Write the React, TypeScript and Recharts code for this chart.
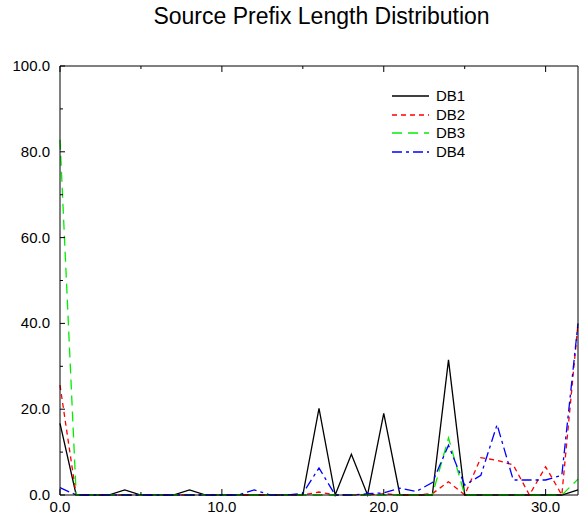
import React from "react";
import { LineChart, Line, XAxis, YAxis, Legend } from "recharts";

const prefixLengths = [
  0, 1, 2, 3, 4, 5, 6, 7, 8, 9, 10, 11, 12, 13, 14, 15, 16, 17, 18, 19, 20,
  21, 22, 23, 24, 25, 26, 27, 28, 29, 30, 31, 32,
];

const db1 = [
  16.7, 0, 0, 0, 1.2, 0, 0, 0, 1.2, 0, 0, 0, 0, 0, 0, 0, 20.2, 0, 9.5, 0, 19,
  0, 0, 0, 31.5, 0, 0, 0, 0, 0, 0, 0, 1.2,
];
const db2 = [
  25.6, 0, 0, 0, 0, 0, 0, 0, 0, 0, 0, 0, 0, 0, 0, 0, 0.7, 0, 0, 0, 0.3, 0, 0,
  0.3, 3.1, 0, 8.7, 8.1, 7, 0, 6.6, 0, 40,
];
const db3 = [
  82.8, 0, 0, 0, 0, 0, 0, 0, 0, 0, 0, 0, 0, 0, 0, 0, 0, 0, 0, 0, 0, 0, 0, 0,
  13.3, 0, 0, 0, 0, 0, 0, 0, 3.7,
];
const db4 = [
  1.7, 0, 0, 0, 0, 0, 0, 0, 0, 0, 0, 0, 1.2, 0, 0, 0.4, 6.3, 0, 0, 0.3, 0.5,
  1.6, 0.8, 2.9, 11.6, 2.3, 4.6, 16.4, 3.5, 3.5, 3.5, 4.6, 40,
];

const xTicks = [0, 5, 10, 15, 20, 25, 30];
const yTicks = [0, 10, 20, 30, 40, 50, 60, 70, 80, 90, 100];

const series = [
  { key: "DB1", color: "#000000", dash: undefined },
  { key: "DB2", color: "#ff0000", dash: "5 4" },
  { key: "DB3", color: "#00ee00", dash: "10 6" },
  { key: "DB4", color: "#0000ff", dash: "10 4 3 4" },
];

const data = prefixLengths.map((x, i) => ({
  x,
  DB1: db1[i],
  DB2: db2[i],
  DB3: db3[i],
  DB4: db4[i],
}));

const FONT = "Liberation Sans, Arial, Helvetica, sans-serif";

// ticks point into the plot, labels only on the major ones
function BottomTick(props: any) {
  const { x, y, payload } = props;
  const major = payload.value % 10 === 0;
  return (
    <g>
      <line x1={x} x2={x} y1={y} y2={y - (major ? 6 : 3)} stroke="#000" />
      {major && (
        <text x={x} y={y + 17} textAnchor="middle" fontSize={15} fontFamily={FONT} fill="#000">
          {payload.value.toFixed(1)}
        </text>
      )}
    </g>
  );
}

function TopTick(props: any) {
  const { x, y, payload } = props;
  const major = payload.value % 10 === 0;
  return <line x1={x} x2={x} y1={y} y2={y + (major ? 6 : 3)} stroke="#000" />;
}

function LeftTick(props: any) {
  const { x, y, payload } = props;
  const major = payload.value % 20 === 0;
  return (
    <g>
      <line x1={x} x2={x + (major ? 5 : 3)} y1={y} y2={y} stroke="#000" />
      {major && (
        <text x={x - 10} y={y + 5} textAnchor="end" fontSize={15} fontFamily={FONT} fill="#000">
          {payload.value.toFixed(1)}
        </text>
      )}
    </g>
  );
}

function RightTick(props: any) {
  const { x, y, payload } = props;
  const major = payload.value % 20 === 0;
  return <line x1={x} x2={x - (major ? 5 : 3)} y1={y} y2={y} stroke="#000" />;
}

function LegendBox() {
  return (
    <div style={{ fontFamily: FONT, fontSize: 15, color: "#000" }}>
      {series.map((s) => (
        <div key={s.key} style={{ display: "flex", alignItems: "center", height: 18.5 }}>
          <svg width={40} height={6}>
            <line x1={2} x2={39} y1={3} y2={3} stroke={s.color} strokeWidth={1.3} strokeDasharray={s.dash} />
          </svg>
          <span style={{ marginLeft: 6, lineHeight: "18px" }}>{s.key}</span>
        </div>
      ))}
    </div>
  );
}

export default function App() {
  return (
    <div style={{ position: "absolute", left: 0, top: 0, width: 582, height: 514, background: "#fff" }}>
      <div
        style={{
          position: "absolute",
          left: 60,
          width: 523,
          top: 5,
          textAlign: "center",
          fontFamily: FONT,
          fontSize: 23,
          lineHeight: "23px",
        }}
      >
        Source Prefix Length Distribution
      </div>
      <LineChart width={582} height={514} data={data} margin={{ top: 65, right: 3, bottom: 0, left: 0 }}>
        <XAxis
          dataKey="x"
          type="number"
          domain={[0, 32]}
          ticks={xTicks}
          interval={0}
          height={19}
          tickSize={0}
          tickMargin={0}
          tickLine={false}
          axisLine={{ stroke: "#000" }}
          tick={<BottomTick />}
        />
        <XAxis
          xAxisId="top"
          orientation="top"
          dataKey="x"
          type="number"
          domain={[0, 32]}
          ticks={xTicks}
          interval={0}
          height={1}
          tickSize={0}
          tickMargin={0}
          tickLine={false}
          axisLine={{ stroke: "#000" }}
          tick={<TopTick />}
        />
        <YAxis
          type="number"
          domain={[0, 100]}
          ticks={yTicks}
          interval={0}
          width={60}
          tickSize={0}
          tickMargin={0}
          tickLine={false}
          axisLine={{ stroke: "#000" }}
          tick={<LeftTick />}
        />
        <YAxis
          yAxisId="right"
          orientation="right"
          type="number"
          domain={[0, 100]}
          ticks={yTicks}
          interval={0}
          width={1}
          tickSize={0}
          tickMargin={0}
          tickLine={false}
          axisLine={{ stroke: "#000" }}
          tick={<RightTick />}
        />
        <Legend
          layout="vertical"
          align="center"
          verticalAlign="middle"
          wrapperStyle={{ left: 390, top: 87, width: 90, height: 76 }}
          content={<LegendBox />}
        />
        {series.map((s) => (
          <Line
            key={s.key}
            type="linear"
            dataKey={s.key}
            stroke={s.color}
            strokeWidth={1.3}
            strokeDasharray={s.dash}
            dot={false}
            activeDot={false}
            isAnimationActive={false}
          />
        ))}
      </LineChart>
    </div>
  );
}
